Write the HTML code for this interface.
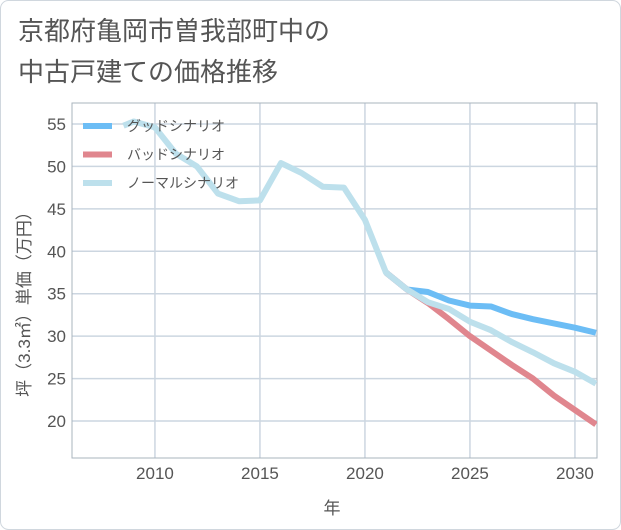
<!DOCTYPE html>
<html><head><meta charset="utf-8"><style>
body{margin:0;background:#fff;}
svg{display:block;font-family:"Liberation Sans","Noto Sans CJK JP",sans-serif;}
</style></head><body>
<svg width="621" height="530" xmlns="http://www.w3.org/2000/svg">
<rect x="0.5" y="0.5" width="620" height="529" rx="8" fill="#fff" stroke="#d0d7de"/>
<text x="18" y="40" font-size="26" fill="#555">京都府亀岡市曽我部町中の</text>
<text x="18" y="81" font-size="26" fill="#555">中古戸建ての価格推移</text>
<g id="grid"></g>
<g id="axes"></g>
<g id="series"></g>
<g id="legend"></g>
<text x="332" y="514" font-size="17" fill="#555" text-anchor="middle">年</text>
<text transform="translate(30,300) rotate(-90)" font-size="17" fill="#555" text-anchor="middle">坪（3.3㎡）単価（万円）</text>
</svg>
<script>
const normalYears=[2008.5,2009,2010,2011,2012,2013,2014,2015,2016,2017,2018,2019,2020,2021,2022,2023,2024,2025,2026,2027,2028,2029,2030,2031];
const normalValues=[54.8,55.3,54.6,51.5,50.0,46.8,45.9,46.0,50.4,49.2,47.6,47.5,43.7,37.5,35.5,34.0,33.2,31.7,30.7,29.3,28.1,26.8,25.8,24.4];
const forecastYears=[2021,2022,2023,2024,2025,2026,2027,2028,2029,2030,2031];
const goodValues=[37.5,35.5,35.2,34.2,33.6,33.5,32.6,32.0,31.5,31.0,30.4];
const badValues=[37.5,35.5,33.9,32.0,30.0,28.3,26.6,25.0,23.0,21.3,19.6];
const xTicks=[2010,2015,2020,2025,2030];
const yTicks=[20,25,30,35,40,45,50,55];
const L=72,R=597,T=103,B=458;
const x=v=>L+(v-2006.05)*21;
const y=v=>124+(55-v)*8.486;
const NS="http://www.w3.org/2000/svg";
function mk(tag,parent,attrs){const e=document.createElementNS(NS,tag);for(const k in attrs)e.setAttribute(k,attrs[k]);document.getElementById(parent).appendChild(e);return e;}
xTicks.forEach(t=>{
 const l=mk('line','grid',{x1:x(t),x2:x(t),y1:T,y2:B,stroke:'#ccd6e0','stroke-width':1.5});
 
 
 const tx=mk('text','axes',{x:x(t),y:B+21,'font-size':17,fill:'#555','text-anchor':'middle'});
 tx.textContent=t;
 
 
});
yTicks.forEach(t=>{
 const l=mk('line','grid',{x1:L,x2:R,y1:y(t),y2:y(t),stroke:'#ccd6e0','stroke-width':1.5});
 
 
 const tx=mk('text','axes',{x:L-6,y:y(t)+6,'font-size':17,fill:'#555','text-anchor':'end'});
 tx.textContent=t;
 
 
});
const fr=mk('rect','axes',{x:L,y:T,width:R-L,height:B-T,fill:'none',stroke:'#aab4be','stroke-width':1});


const clip=mk('clipPath','series',{id:'pc'});
const cr=document.createElementNS(NS,'rect');cr.setAttribute('x',L);cr.setAttribute('y',T);cr.setAttribute('width',R-L);cr.setAttribute('height',B-T);clip.appendChild(cr);
function line(xs,vs,color,name){
 const p=mk('polyline','series',{points:xs.map((t,i)=>x(t)+','+y(vs[i])).join(' '),fill:'none',stroke:color,'stroke-width':6,'stroke-linejoin':'round','clip-path':'url(#pc)'});
 
 
}
line(forecastYears,goodValues,'#6cbdf5','good-scenario-line');
line(forecastYears,badValues,'#e0868e','bad-scenario-line');
line(normalYears,normalValues,'#bde0ec','normal-scenario-line');
const leg=[['グッドシナリオ','#6cbdf5'],['バッドシナリオ','#e0868e'],['ノーマルシナリオ','#bde0ec']];
leg.forEach((d,i)=>{
 const yy=126+i*28.5;
 const r=mk('rect','legend',{x:83,y:yy-3,width:29,height:6,fill:d[1]});
 
 
 const t=mk('text','legend',{x:127,y:yy+5,'font-size':14,fill:'#555'});
 t.textContent=d[0];
 
 
});
</script>
</body></html>
